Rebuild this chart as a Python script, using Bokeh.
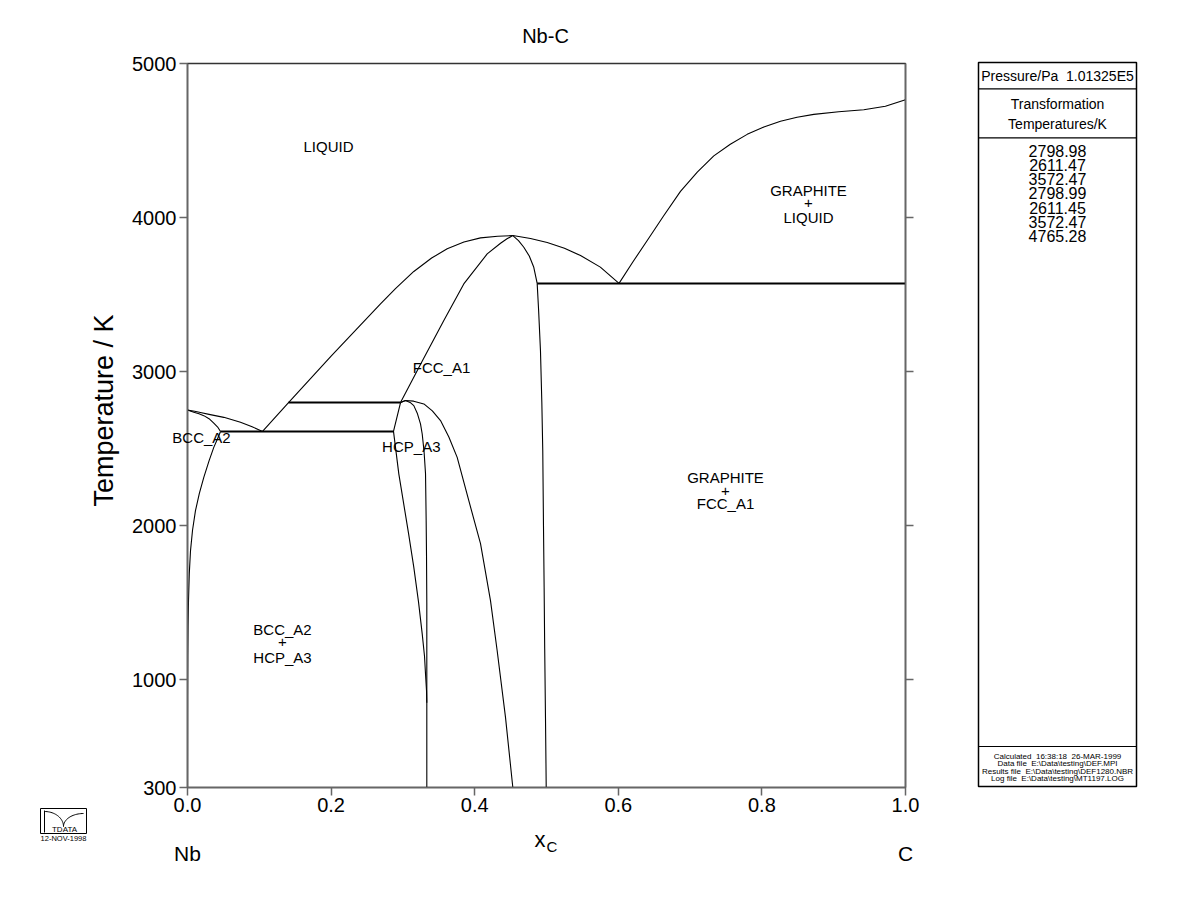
import numpy as np
from bokeh.plotting import figure
from bokeh.models import (Range1d, FixedTicker, NumeralTickFormatter, LinearAxis, GridBox, Plot)
from bokeh.layouts import column
from bokeh.core.properties import value
from bokeh.embed import file_html
from bokeh.resources import INLINE

FONT = "Liberation Sans"

# ---------------- data (x_C, T/K) ----------------
# BCC liquidus (Nb side)
liq_bcc_x = [0.0, 0.01, 0.018, 0.03, 0.0506, 0.0738, 0.09, 0.1045]
liq_bcc_T = [2750, 2742, 2734, 2722, 2703, 2671, 2642, 2611.47]
# BCC solidus
sol_bcc_x = [0.0, 0.0088, 0.016, 0.0227, 0.03, 0.0366, 0.042, 0.046]
sol_bcc_T = [2750, 2736, 2726, 2714, 2694, 2665, 2640, 2611.47]
# BCC solvus
solv_bcc_x = [0.046, 0.042, 0.0366, 0.03, 0.0227, 0.0165, 0.0111, 0.007, 0.0042,
              0.0025, 0.0014, 0.0007, 0.0003, 0.0001, 0.0]
solv_bcc_T = [2611.47, 2566, 2508, 2420, 2313, 2210, 2097, 1970, 1838,
              1690, 1513, 1340, 1150, 900, 300]
# FCC liquidus (Nb-rich side)
liq_fcc_l_x = [0.1045, 0.1407, 0.2, 0.2688, 0.29, 0.3152, 0.34, 0.3617, 0.385, 0.4081, 0.432, 0.4531]
liq_fcc_l_T = [2611.47, 2798.98, 3100, 3440, 3540, 3650, 3737, 3797, 3841, 3868, 3879, 3883]
# FCC liquidus (C-rich side)
liq_fcc_r_x = [0.4531, 0.4777, 0.501, 0.525, 0.5474, 0.575, 0.601]
liq_fcc_r_T = [3883, 3864, 3838, 3800, 3753, 3678, 3572.47]
# FCC solidus (Nb-rich side)
sol_fcc_l_x = [0.2967, 0.327, 0.357, 0.3848, 0.4174, 0.436, 0.445, 0.4531]
sol_fcc_l_T = [2798.98, 3068, 3331, 3569, 3764, 3833, 3862, 3883]
# FCC solidus (C-rich side)
sol_fcc_r_x = [0.4531, 0.461, 0.4684, 0.476, 0.4823, 0.487]
sol_fcc_r_T = [3883, 3850, 3807, 3750, 3677, 3572.47]
# FCC solvus (C-rich side)
solv_fcc_r_x = [0.487, 0.489, 0.4916, 0.4935, 0.4948, 0.4958, 0.4967, 0.4975, 0.4986, 0.4996]
solv_fcc_r_T = [3572.47, 3400, 3136, 2800, 2487, 2000, 1600, 1200, 750, 300]
# FCC solvus (HCP side)
solv_fcc_l_x = [0.2967, 0.3036, 0.315, 0.3292, 0.341, 0.3524, 0.364, 0.3756, 0.3918, 0.4081,
                0.415, 0.422, 0.4313, 0.4429, 0.4531]
solv_fcc_l_T = [2798.98, 2812, 2808, 2790, 2745, 2682, 2575, 2443, 2162, 1883,
                1700, 1513, 1188, 755, 300]
# Graphite liquidus
liq_gra_x = [0.601, 0.62, 0.6403, 0.663, 0.6866, 0.71, 0.733, 0.756, 0.7795, 0.8027,
             0.8259, 0.849, 0.8723, 0.907, 0.9419, 0.972, 1.0]
liq_gra_T = [3572.47, 3710, 3851, 4010, 4170, 4295, 4400, 4476, 4540, 4588,
             4625, 4651, 4670, 4687, 4700, 4722, 4765.28]
# HCP boundaries
hcp_l_x = [0.2967, 0.2869, 0.2943, 0.3004, 0.3078, 0.3152, 0.3217, 0.3269, 0.3301, 0.3315, 0.3329, 0.3333]
hcp_l_T = [2798.98, 2611.47, 2336, 2162, 1951, 1729, 1507, 1297, 1152, 1037, 928, 850]
hcp_r_x = [0.2967, 0.3036, 0.31, 0.3152, 0.32, 0.3245, 0.3269, 0.3295, 0.3315, 0.3324, 0.3329, 0.3333, 0.3333]
hcp_r_T = [2798.98, 2812, 2800, 2779, 2730, 2660, 2595, 2480, 2338, 2032, 1800, 1500, 300]
# invariant (tie) lines
tie_T = [2611.47, 2798.98, 3572.47]
tie_x0 = [0.046, 0.1407, 0.487]
tie_x1 = [0.2869, 0.2967, 1.0]

x_ticks = [0.0, 0.2, 0.4, 0.6, 0.8, 1.0]
y_ticks = [300, 1000, 2000, 3000, 4000, 5000]

trans_temps = [2798.98, 2611.47, 3572.47, 2798.99, 2611.45, 3572.47, 4765.28]

# ---------------- main figure ----------------
FL, FT, FW, FH = 187, 63, 718, 724
p = figure(width=960, height=923, x_range=Range1d(0, 1), y_range=Range1d(300, 5000),
           output_backend="svg", toolbar_location=None,
           min_border_left=FL, min_border_right=960 - FL - FW,
           min_border_top=FT, min_border_bottom=923 - FT - FH)
p.xgrid.grid_line_color = None
p.ygrid.grid_line_color = None
p.outline_line_color = "#333333"
p.outline_line_width = 1.5
p.background_fill_color = "white"
p.border_fill_color = "white"


def sx(px):
    return (px - FL) / FW


def sy(py):
    return 5000 - (py - FT) * 4700.0 / FH


curves = [(liq_bcc_x, liq_bcc_T), (sol_bcc_x, sol_bcc_T), (solv_bcc_x, solv_bcc_T),
          (liq_fcc_l_x, liq_fcc_l_T), (liq_fcc_r_x, liq_fcc_r_T),
          (sol_fcc_l_x, sol_fcc_l_T), (sol_fcc_r_x, sol_fcc_r_T),
          (solv_fcc_r_x, solv_fcc_r_T), (solv_fcc_l_x, solv_fcc_l_T),
          (liq_gra_x, liq_gra_T), (hcp_l_x, hcp_l_T), (hcp_r_x, hcp_r_T)]
for cx_, cy_ in curves:
    p.line(cx_, cy_, line_color="black", line_width=1.1, line_join="round")
p.segment(x0=tie_x0, y0=tie_T, x1=tie_x1, y1=tie_T, line_color="black", line_width=2)

left_axis = p.yaxis[0]
bottom_axis = p.xaxis[0]
bottom_axis.ticker = FixedTicker(ticks=x_ticks)
bottom_axis.formatter = NumeralTickFormatter(format="0.0")
left_axis.ticker = FixedTicker(ticks=y_ticks)
right_axis = LinearAxis(ticker=FixedTicker(ticks=[1000, 2000, 3000, 4000]),
                        major_label_text_font_size="1px", major_label_text_color=None)
p.add_layout(right_axis, "right")
for ax in [bottom_axis, left_axis, right_axis]:
    ax.axis_line_color = "#666666"
    ax.axis_line_width = 1.5
    ax.major_tick_line_color = "#666666"
    ax.major_tick_line_width = 1.5
    ax.major_tick_out = 8
    ax.major_tick_in = 0
    ax.minor_tick_line_color = None
for ax in [bottom_axis, left_axis]:
    ax.major_label_text_font = FONT
    ax.major_label_text_font_size = "20px"
    ax.major_label_text_color = "black"
bottom_axis.major_label_standoff = 2
left_axis.major_label_standoff = 3

# ---------------- transparent text overlay (same data coordinates, full canvas) ----------------
o = figure(width=960, height=923, x_range=Range1d(sx(0), sx(960)), y_range=Range1d(sy(923), sy(0)),
           output_backend="svg", toolbar_location=None, x_axis_location=None, y_axis_location=None,
           min_border_left=0, min_border_right=0, min_border_top=0, min_border_bottom=0)
o.xgrid.grid_line_color = None
o.ygrid.grid_line_color = None
o.outline_line_color = None
o.background_fill_alpha = 0
o.border_fill_alpha = 0


def lab(x, y, t, size="15px", align="center", baseline="middle", angle=0.0):
    o.text(x=[x], y=[y], text=[t], text_font=value(FONT), text_font_size=size,
           text_align=align, text_baseline=baseline, text_color="black", angle=angle)


# region labels
lab(0.1964, 4461, "LIQUID")
lab(0.0195, 2573, "BCC_A2")
lab(0.3117, 2513, "HCP_A3")
lab(0.3538, 3026, "FCC_A1")
lab(0.8649, 4177, "GRAPHITE")
lab(0.8649, 4095, "+")
lab(0.8649, 4002, "LIQUID")
lab(0.7493, 2312, "GRAPHITE")
lab(0.7493, 2227, "+")
lab(0.7493, 2143, "FCC_A1")
lab(0.1323, 1323, "BCC_A2")
lab(0.1323, 1247, "+")
lab(0.1323, 1145, "HCP_A3")

# title, axis titles, end members
lab(sx(545), sy(35), "Nb-C", size="20px")
lab(sx(103), sy(410), "Temperature / K", size="27px", angle=np.pi / 2)
lab(sx(545), sy(839), "x", size="22px", align="right", baseline="alphabetic")
lab(sx(546), sy(846), "C", size="15px", align="left", baseline="alphabetic")
lab(0.0, sy(853), "Nb", size="21px")
lab(1.0, sy(853), "C", size="21px")

# logo (decoration)
o.quad(left=[sx(40)], right=[sx(86)], top=[sy(808)], bottom=[sy(833)],
       fill_alpha=0, line_color="black", line_width=1)
tt = np.linspace(0, 1, 24)
arc1_x = [sx(v) for v in 44 + 19 * np.sin(tt * np.pi / 2)]
arc1_y = [sy(v) for v in 811 + 15 * (1 - np.cos(tt * np.pi / 2))]
arc2_x = [sx(v) for v in 63 + 20 * (1 - np.cos(tt * np.pi / 2))]
arc2_y = [sy(v) for v in 826 - 13 * np.sin(tt * np.pi / 2)]
o.line(arc1_x, arc1_y, line_color="black", line_width=1)
o.line(arc2_x, arc2_y, line_color="black", line_width=1)
o.segment(x0=[sx(44)], y0=[sy(810)], x1=[sx(44)], y1=[sy(832)], line_color="black", line_width=1)
lab(sx(64), sy(829), "TDATA", size="8px")
lab(sx(63), sy(838), "12-NOV-1998", size="7.5px")

# ---------------- right panel ----------------
PL, PR, PT, PB = 978, 1136, 62, 786
q = figure(width=240, height=923, x_range=Range1d(0, PR - PL), y_range=Range1d(PB - PT, 0),
           output_backend="svg", toolbar_location=None, x_axis_location=None, y_axis_location=None,
           min_border_left=PL - 960, min_border_right=1200 - PR,
           min_border_top=PT, min_border_bottom=923 - PB)
q.xgrid.grid_line_color = None
q.ygrid.grid_line_color = None
q.outline_line_color = "black"
q.outline_line_width = 1.5
W = PR - PL
q.segment(x0=[0, 0, 0], x1=[W, W, W], y0=[26.3, 75.3, 684], y1=[26.3, 75.3, 684],
          line_color="black", line_width=1.2)
cx = W / 2.0
NB = "\u00a0"


def qt(y, t, size):
    q.text(x=[cx], y=[y], text=[t], text_font=value(FONT), text_font_size=size,
           text_align="center", text_baseline="middle", text_color="black")


qt(13, "Pressure/Pa" + NB + NB + "1.01325E5", "14px")
qt(41.3, "Transformation", "14px")
qt(61.3, "Temperatures/K", "14px")
for i, v in enumerate(trans_temps):
    qt(88 + 14.33 * i, "%.2f" % v, "16px")
small = ["Calculated" + NB + NB + "16:38:18" + NB + NB + "26-MAR-1999",
         "Data file" + NB + NB + "E:\\Data\\testing\\DEF.MPI",
         "Results file" + NB + NB + "E:\\Data\\testing\\DEF1280.NBR",
         "Log file" + NB + NB + "E:\\Data\\testing\\MT1197.LOG"]
for i, s in enumerate(small):
    qt(693.7 + 7.4 * i, s, "8px")

if "frame_align" in Plot.properties():
    for f in (p, o, q):
        f.frame_align = False
    overlay = o
else:
    overlay = column(o)

layout = GridBox(children=[(p, 0, 0), (overlay, 0, 0), (q, 0, 1)], spacing=0)
open("out.html", "w").write(file_html(layout, INLINE))
